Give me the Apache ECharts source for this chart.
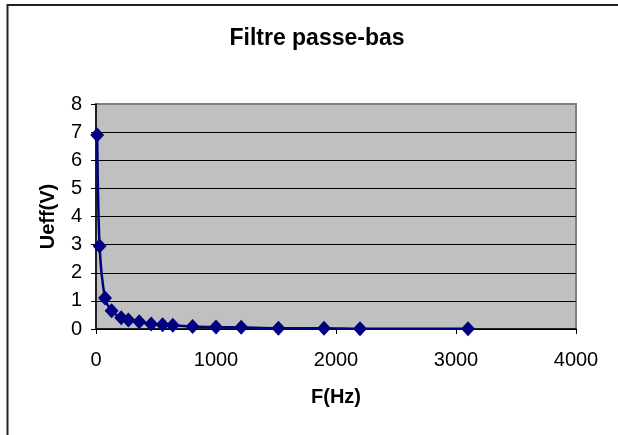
<!DOCTYPE html>
<html>
<head>
<meta charset="utf-8">
<script src="https://cdn.jsdelivr.net/npm/echarts@6/dist/echarts.min.js"></script>
<style>html,body{margin:0;padding:0;background:#fff;}#c{width:618px;height:435px;}</style>
</head>
<body>
<div id="c"></div>
<script>
const titleText = 'Filtre passe-bas';
const xName = 'F(Hz)';
const yName = 'Ueff(V)';
const freq = [10, 30, 75, 130, 210, 270, 360, 460, 555, 640, 805, 1000, 1210, 1520, 1900, 2200, 3100];
const ueff = [6.9, 2.95, 1.1, 0.65, 0.4, 0.32, 0.26, 0.18, 0.15, 0.13, 0.09, 0.07, 0.06, 0.03, 0.03, 0.01, 0.01];

const font = 'Liberation Sans, Arial, sans-serif';
const chart = echarts.init(document.getElementById('c'), null, {renderer: 'canvas'});
chart.setOption({
  animation: false,
  backgroundColor: '#fff',
  graphic: [{
    type: 'rect', z: -10,
    shape: {x: 7.5, y: 5, width: 800, height: 600},
    style: {fill: 'none', stroke: '#222', lineWidth: 2}
  }],
  title: {
    text: titleText, left: 312, top: 22, textAlign: 'center',
    textStyle: {fontFamily: font, fontSize: 23, fontWeight: 'bold', color: '#000'}
  },
  grid: {
    left: 96, right: 42, top: 104, bottom: 106,
    show: true, backgroundColor: '#c0c0c0', borderColor: '#808080', borderWidth: 2
  },
  xAxis: {
    type: 'value', min: 0, max: 4000, interval: 1000,
    name: xName, nameLocation: 'middle', nameGap: 58,
    nameTextStyle: {fontFamily: font, fontSize: 20, fontWeight: 'bold', color: '#000'},
    axisLine: {show: true, onZero: false, lineStyle: {color: '#000', width: 1.5}},
    axisTick: {show: true, inside: false, length: 5, lineStyle: {color: '#000'}},
    axisLabel: {fontFamily: font, fontSize: 20, color: '#000', margin: 21, formatter: v => String(v)},
    splitLine: {show: false}
  },
  yAxis: {
    type: 'value', min: 0, max: 8, interval: 1,
    name: yName, nameLocation: 'middle', nameGap: 38, nameRotate: 90,
    nameTextStyle: {fontFamily: font, fontSize: 20, fontWeight: 'bold', color: '#000'},
    axisLine: {show: true, onZero: false, lineStyle: {color: '#000', width: 1.5}},
    axisTick: {show: true, inside: false, length: 5, lineStyle: {color: '#000'}},
    axisLabel: {fontFamily: font, fontSize: 20, color: '#000', margin: 14},
    splitLine: {show: true, lineStyle: {color: ['#000','#000','#000','#000','#000','#000','#000','#000','#808080'], width: 1}}
  },
  series: [{
    type: 'line',
    data: freq.map((f, i) => [f, ueff[i]]),
    smooth: 0.3,
    symbol: 'diamond', symbolSize: [14, 15],
    showAllSymbol: true,
    lineStyle: {color: '#000080', width: 2.5},
    itemStyle: {color: '#000080', borderWidth: 0}
  }]
});
</script>
</body>
</html>
